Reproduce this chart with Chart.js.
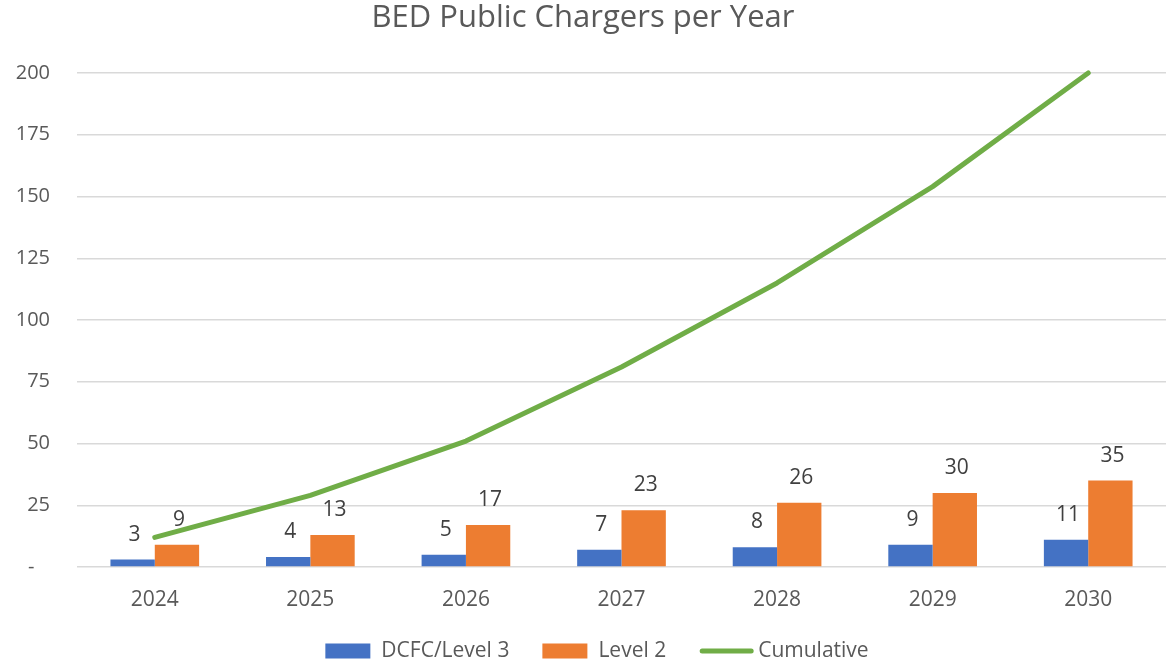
<!DOCTYPE html>
<html>
<head>
<meta charset="utf-8">
<script src="https://cdn.jsdelivr.net/npm/chart.js@4"></script>
<style>
html,body{margin:0;padding:0;background:#fff;}
#wrap{width:1170px;height:664px;position:relative;}
</style>
</head>
<body>
<div id="wrap"><canvas id="c" width="1170" height="664"></canvas></div>
<script>
const categories = ['2024','2025','2026','2027','2028','2029','2030'];
const dcfc = [3, 4, 5, 7, 8, 9, 11];
const level2 = [9, 13, 17, 23, 26, 30, 35];
const cumulative = [12, 29, 51, 81, 115, 154, 200];
const yTicks = [0, 25, 50, 75, 100, 125, 150, 175, 200];

const FONT = "'Open Sans', sans-serif";
const TXT = '#595959';

const barLabels = {
  id: 'barLabels',
  afterDatasetsDraw(chart) {
    const ctx = chart.ctx;
    ctx.save();
    ctx.font = "21px " + FONT;
    ctx.fillStyle = '#404040';
    ctx.textAlign = 'center';
    ctx.textBaseline = 'middle';
    chart.data.datasets.forEach((ds, i) => {
      if (ds.type === 'line') return;
      const meta = chart.getDatasetMeta(i);
      meta.data.forEach((el, j) => {
        ctx.fillText(String(ds.data[j]), el.x + 2, el.y - 25);
      });
    });
    ctx.restore();
  }
};

const customLegend = {
  id: 'customLegend',
  afterDraw(chart) {
    const ctx = chart.ctx;
    ctx.save();
    ctx.font = "21px " + FONT;
    ctx.textBaseline = 'middle';
    ctx.textAlign = 'left';
    const y = 651;
    const items = chart.data.datasets.map(ds => ({
      label: ds.label, color: ds.type === 'line' ? ds.borderColor : ds.backgroundColor, line: ds.type === 'line'
    }));
    const boxW = 45, lineW = 55, gapBox = 11, gapLine = 4, gapItem = 33;
    let total = 0;
    items.forEach((it, k) => {
      total += (it.line ? lineW + gapLine : boxW + gapBox) + ctx.measureText(it.label).width;
      if (k < items.length - 1) total += gapItem;
    });
    let x = 597 - total / 2;
    items.forEach(it => {
      if (it.line) {
        ctx.strokeStyle = it.color;
        ctx.lineWidth = 5;
        ctx.lineCap = 'round';
        ctx.beginPath();
        ctx.moveTo(x + 3, y);
        ctx.lineTo(x + lineW - 3, y);
        ctx.stroke();
        x += lineW + gapLine;
      } else {
        ctx.fillStyle = it.color;
        ctx.fillRect(x, y - 7.5, boxW, 15);
        x += boxW + gapBox;
      }
      ctx.fillStyle = TXT;
      ctx.fillText(it.label, x, y);
      x += ctx.measureText(it.label).width + gapItem;
    });
    ctx.restore();
  }
};

new Chart(document.getElementById('c'), {
  data: {
    labels: categories,
    datasets: [
      { type: 'bar', label: 'DCFC/Level 3', data: dcfc, backgroundColor: '#4472C4', order: 2,
        categoryPercentage: 0.57, barPercentage: 1.0 },
      { type: 'bar', label: 'Level 2', data: level2, backgroundColor: '#ED7D31', order: 2,
        categoryPercentage: 0.57, barPercentage: 1.0 },
      { type: 'line', label: 'Cumulative', data: cumulative, borderColor: '#70AD47', backgroundColor: '#70AD47',
        borderWidth: 5, pointRadius: 0, tension: 0, order: 1, clip: false, borderCapStyle: 'round', borderJoinStyle: 'round' }
    ]
  },
  options: {
    responsive: false,
    animation: false,
    layout: { padding: { left: 0, right: 4, top: 0, bottom: 0 } },
    plugins: {
      legend: { display: false },
      tooltip: { enabled: false },
      title: {
        display: true,
        text: 'BED Public Chargers per Year',
        color: TXT,
        font: { family: FONT, size: 31, weight: 'normal' },
        padding: { top: 0, bottom: 35.8 }
      }
    },
    scales: {
      x: {
        grid: { display: false, drawTicks: false },
        border: { display: false },
        ticks: { color: TXT, font: { family: FONT, size: 21 }, padding: 20 },
        afterFit(scale) { scale.height = 97; }
      },
      y: {
        min: 0, max: 200,
        grid: { color: '#D9D9D9', lineWidth: 1.5, drawTicks: false },
        border: { display: false },
        afterBuildTicks(scale) { scale.ticks = yTicks.map(v => ({ value: v })); },
        ticks: {
          color: TXT, font: { family: FONT, size: 20 }, padding: 27,
          callback: v => v === 0 ? '-   ' : String(v)
        },
        afterFit(scale) { scale.width = 77; }
      }
    }
  },
  plugins: [barLabels, customLegend]
});
</script>
</body>
</html>
